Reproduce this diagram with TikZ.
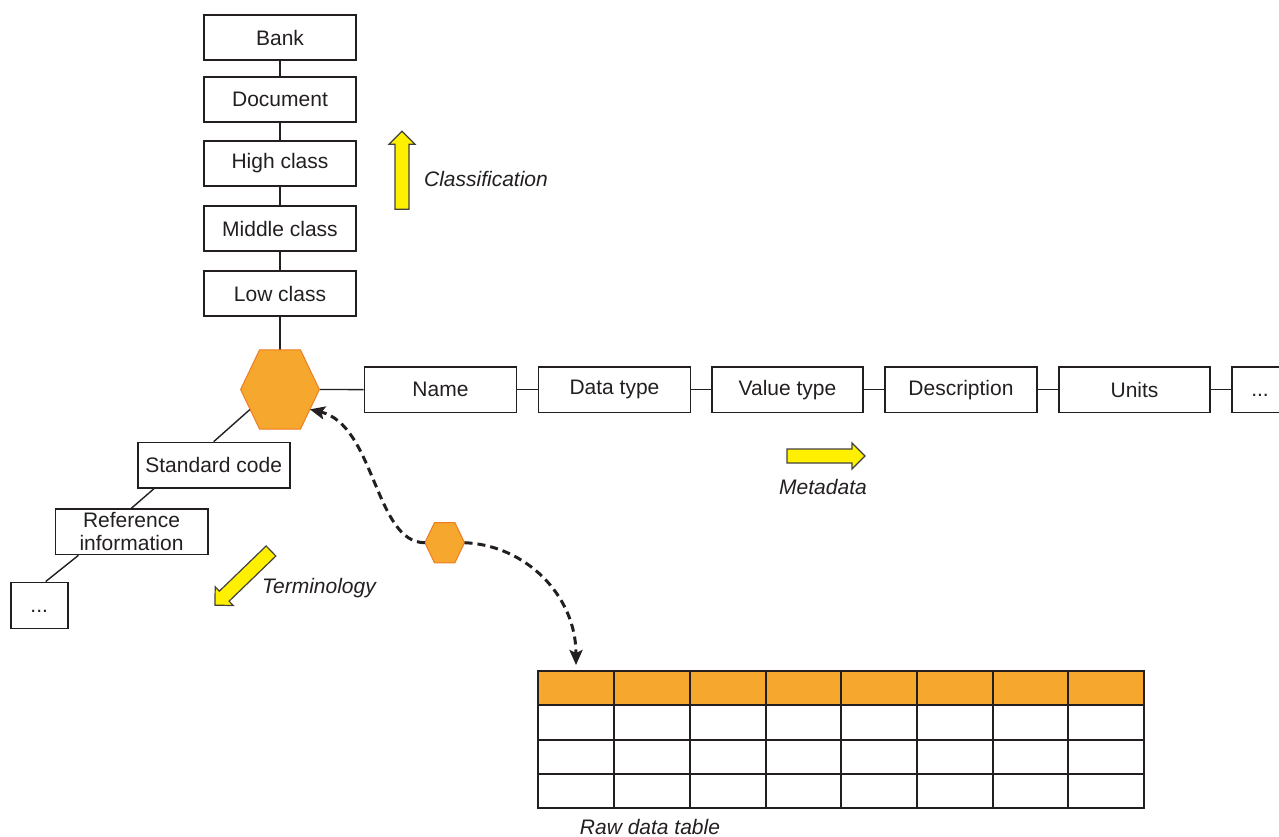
\documentclass[tikz,border=0pt]{standalone}
\usepackage{fontspec}
\setmainfont{Liberation Sans}
\usetikzlibrary{calc,arrows.meta}
\definecolor{hexorange}{HTML}{F5A72E}
\definecolor{hexedge}{HTML}{EE7D22}
\definecolor{ink}{HTML}{231F20}
\definecolor{arrowyellow}{HTML}{FFF000}
\begin{document}
\begin{tikzpicture}[x=1pt,y=-1pt,
  every node/.style={font=\fontsize{21}{23}\selectfont, text=ink},
  box/.style={draw=ink, line width=1.6pt, minimum width=151.5pt, minimum height=45.5pt, inner sep=0pt},
  link/.style={draw=ink, line width=1.4pt},
  hexframe/.style={minimum width=78.4pt, minimum height=79pt, inner sep=0pt},
  smallhexframe/.style={minimum width=39.3pt, minimum height=40pt, inner sep=0pt},
  hexpaint/.style={fill=hexorange, draw=hexedge, line width=1pt, line join=miter},
  caption/.style={font=\fontsize{21}{23}\selectfont\itshape},
  dashlink/.style={draw=ink, line width=3pt, dash pattern=on 8pt off 5pt,
    -{Stealth[length=15pt,width=13pt,inset=3pt]}},
  cell/.style={draw=ink, line width=2pt, inner sep=0pt},
  flowarrow/.pic={\draw[draw=ink!85, fill=arrowyellow, line width=1.2pt, line join=miter]
    (0,-7) -- (65,-7) -- (65,-13) -- (78,0) -- (65,13) -- (65,7) -- (0,7) -- cycle;}
]
\useasboundingbox (0,0) rectangle (1279,837);
\clip (0,0) rectangle (1279,837);

% classification chain
\node[box] (bank)   at (280,37.5)  {Bank};
\node[box] (doc)    at (280,99.5)  {Document};
\node[box] (high)   at (280,163.5) {High class};
\node[box] (middle) at (280,228.5) {Middle class};
\node[box] (low)    at (280,293.5) {Low class};

% central hexagon frame
\node[hexframe] (hex) at (280,389.5) {};
\coordinate (htl) at ($(hex.north west)+(19,0)$);
\coordinate (htr) at ($(hex.north east)+(-19,0)$);
\coordinate (hbl) at ($(hex.south west)+(19,0)$);
\coordinate (hbr) at ($(hex.south east)+(-19,0)$);
\coordinate (hexll) at ($(hex.west)!0.5!(hbl)$);
\coordinate (hexlr) at ($(hex.east)!0.5!(hbr)$);

% metadata row
\node[box, minimum width=152pt] (name)  at (440.5,389.7)  {Name};
\node[box, minimum width=152pt] (dtype) at (614.5,389.7)  {Data type};
\node[box, minimum width=151pt] (vtype) at (787.5,389.7)  {Value type};
\node[box, minimum width=152pt] (descr) at (961,389.7)    {Description};
\node[box, minimum width=151pt] (units) at (1134.5,389.7) {Units};
\node[box, minimum width=56pt]  (mmore) at (1260,389.7)   {\vphantom{A}...};

% terminology chain
\node[box, minimum width=152pt] (std) at (213.7,465.2) {Standard code};
\node[box, minimum width=152.4pt, align=center] (ref) at (131.5,531.7) {Reference\\information};
\node[box, minimum width=57pt, minimum height=46pt] (tmore) at (39.2,605.3) {\vphantom{A}...};

% connectors
\draw[link] (bank) -- (doc);
\draw[link] (doc) -- (high);
\draw[link] (high) -- (middle);
\draw[link] (middle) -- (low);
\draw[link] (low) -- (hex.north);
\draw[link] (hex.east) -- (name);
\draw[link] (name) -- (dtype);
\draw[link] (dtype) -- (vtype);
\draw[link] (vtype) -- (descr);
\draw[link] (descr) -- (units);
\draw[link] (units) -- (mmore);
\draw[link] (hexll) -- (std.north);
\draw[link] ($(std.south west)+(17,0)$) -- (ref.north);
\draw[link] ($(ref.south west)+(24,0)$) -- ($(tmore.north)+(6.5,0)$);

% hexagons
\draw[hexpaint] (hex.west) -- (htl) -- (htr) -- (hex.east) -- (hbr) -- (hbl) -- cycle;
\node[smallhexframe] (shex) at (444.7,542.7) {};
\draw[hexpaint] (shex.west) -- ($(shex.north west)+(9.7,0)$) -- ($(shex.north east)+(-9.7,0)$)
  -- (shex.east) -- ($(shex.south east)+(-9.7,0)$) -- ($(shex.south west)+(9.7,0)$) -- cycle;

% raw data table: header row and three data rows
\foreach \c/\xa/\xb in {1/538/614, 2/614/690, 3/690/766, 4/766/841,
                        5/841/917, 6/917/993, 7/993/1068, 8/1068/1144} {
  \foreach \r/\ya/\yb in {0/671/705, 1/705/740, 2/740/774, 3/774/808} {
    \ifnum\r=0
      \node[cell, fill=hexorange, minimum width={\xb-\xa}, minimum height={\yb-\ya}]
        (t\r-\c) at ({(\xa+\xb)/2},{(\ya+\yb)/2}) {};
    \else
      \node[cell, minimum width={\xb-\xa}, minimum height={\yb-\ya}]
        (t\r-\c) at ({(\xa+\xb)/2},{(\ya+\yb)/2}) {};
    \fi
  }
}

% dashed links through the small hexagon
\draw[dashlink] (shex.west) .. controls (375,543) and (375,425) .. (hexlr);
\draw[dashlink, shorten >=5pt] (shex.east) .. controls (525,545) and (576,595) .. (t0-1.north);

% direction arrows
\pic at (402,209.3) [rotate=90] {flowarrow};
\pic at (787,456) {flowarrow};
\pic at (271,551) [rotate=224] {flowarrow};

% captions
\node[caption] (cls)  at (486,179) {Classification};
\node[caption] (meta) at (823,487) {Metadata};
\node[caption] (term) at (319,588) {Terminology};
\node[caption] (raw)  at (650,827) {Raw data table};
\end{tikzpicture}
\end{document}
